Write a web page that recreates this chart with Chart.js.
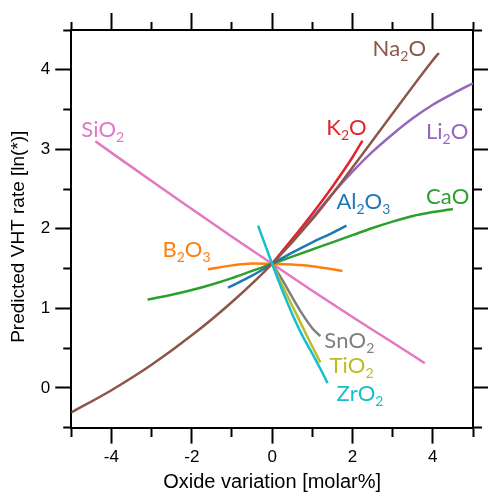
<!DOCTYPE html>
<html>
<head>
<meta charset="utf-8">
<script src="https://cdn.jsdelivr.net/npm/chart.js@4.4.1/dist/chart.umd.min.js"></script>
<style>
  html, body { margin: 0; padding: 0; background: #fff; }
</style>
</head>
<body>
<canvas id="vhtChart" width="488" height="492"></canvas>
<script>
// Oxide variation (molar%) vs predicted VHT rate [ln(*)], one curve per oxide
const zro2X = [-0.35, 0, 0.25, 0.5, 0.75, 1, 1.2, 1.38];
const zro2Y = [2.04, 1.56, 1.23, 0.93, 0.66, 0.43, 0.24, 0.06];
const tio2X = [0, 0.3, 0.6, 0.9, 1.2];
const tio2Y = [1.56, 1.24, 0.93, 0.62, 0.32];
const sno2X = [0, 0.25, 0.5, 0.75, 1, 1.2];
const sno2Y = [1.56, 1.36, 1.14, 0.93, 0.75, 0.65];
const sio2X = [-4.4, -3, -2, -1, 0, 1, 2, 3, 3.8];
const sio2Y = [3.1, 2.6, 2.25, 1.9, 1.56, 1.22, 0.89, 0.57, 0.31];
const b2o3X = [-1.6, -1, -0.5, 0, 0.5, 1, 1.75];
const b2o3Y = [1.49, 1.54, 1.565, 1.56, 1.55, 1.53, 1.47];
const al2o3X = [-1.1, -0.5, 0, 0.5, 1, 1.5, 1.85];
const al2o3Y = [1.26, 1.41, 1.56, 1.7, 1.83, 1.95, 2.04];
const caoX = [-3.1, -2.5, -2, -1.5, -1, -0.5, 0, 0.5, 1, 1.5, 2, 2.5, 3, 3.5, 4, 4.5];
const caoY = [1.11, 1.17, 1.23, 1.3, 1.38, 1.47, 1.56, 1.65, 1.74, 1.83, 1.92, 2.01, 2.09, 2.16, 2.21, 2.25];
const li2oX = [0, 0.5, 1, 1.5, 2, 2.5, 3, 3.5, 4, 4.5, 5];
const li2oY = [1.56, 1.86, 2.14, 2.44, 2.72, 2.97, 3.19, 3.39, 3.56, 3.7, 3.83];
const k2oX = [0, 0.5, 1, 1.5, 2, 2.25];
const k2oY = [1.56, 1.87, 2.19, 2.53, 2.9, 3.11];
const na2oX = [-5, -4, -3, -2, -1, 0, 1, 2, 3, 4, 4.15];
const na2oY = [-0.31, -0.03, 0.29, 0.66, 1.08, 1.56, 2.12, 2.77, 3.45, 4.12, 4.21];

// axis ticks: every tick gets a mark, only the labelled ones are long
const xTicks = [-5, -4, -3, -2, -1, 0, 1, 2, 3, 4, 5];
const xTickLabels = [-4, -2, 0, 2, 4];
const yTicks = [-0.5, 0, 0.5, 1, 1.5, 2, 2.5, 3, 3.5, 4, 4.5];
const yTickLabels = [0, 1, 2, 3, 4];

// first entry is drawn on top
const series = [
  { name: 'ZrO2', x: zro2X, y: zro2Y, color: '#17becf', at: [1.6, -0.16] },
  { name: 'TiO2', x: tio2X, y: tio2Y, color: '#bcbd22', at: [1.43, 0.19] },
  { name: 'SnO2', x: sno2X, y: sno2Y, color: '#7f7f7f', at: [1.3, 0.5] },
  { name: 'Na2O', x: na2oX, y: na2oY, color: '#8c564b', at: [2.5, 4.175] },
  { name: 'K2O', x: k2oX, y: k2oY, color: '#e0262b', at: [1.35, 3.175] },
  { name: 'Li2O', x: li2oX, y: li2oY, color: '#9467bd', at: [3.83, 3.125] },
  { name: 'Al2O3', x: al2o3X, y: al2o3Y, color: '#1f77b4', at: [1.6, 2.25] },
  { name: 'CaO', x: caoX, y: caoY, color: '#2ca02c', at: [3.83, 2.31] },
  { name: 'B2O3', x: b2o3X, y: b2o3Y, color: '#ff7f0e', at: [-2.73, 1.64] },
  { name: 'SiO2', x: sio2X, y: sio2Y, color: '#e377c2', at: [-4.75, 3.16] }
];

const MINOR_LEN = 8;
const tickFont = { family: 'Liberation Sans', size: 17 };

function makeAxis(position, allTicks, longTicks, tickLen, showLabels) {
  // top and left tick marks are stroked from their outer end towards the axis
  const inward = position === 'top' || position === 'left';
  const isLong = ctx => ctx.tick && longTicks.includes(ctx.tick.value);
  return {
    type: 'linear',
    position,
    afterBuildTicks: scale => { scale.ticks = allTicks.map(v => ({ value: v })); },
    border: { color: '#000', width: 2 },
    grid: {
      drawOnChartArea: false,
      drawTicks: true,
      tickLength: tickLen,
      tickWidth: 2,
      tickColor: '#000',
      tickBorderDash: ctx => isLong(ctx) ? [] : [MINOR_LEN, tickLen - MINOR_LEN],
      tickBorderDashOffset: ctx => (!isLong(ctx) && inward) ? MINOR_LEN : 0
    },
    ticks: {
      display: showLabels,
      autoSkip: false,
      maxRotation: 0,
      padding: 5,
      color: '#000',
      font: tickFont,
      callback: v => longTicks.includes(v) ? String(v) : ''
    }
  };
}

const scales = {
  x: makeAxis('bottom', xTicks, xTickLabels, 16, true),
  x2: makeAxis('top', xTicks, xTickLabels, 17, false),
  y: makeAxis('left', yTicks, yTickLabels, 16, true),
  y2: makeAxis('right', yTicks, yTickLabels, 15, false)
};
scales.x.min = scales.x2.min = -5;
scales.x.max = scales.x2.max = 5;
scales.y.min = scales.y2.min = -0.5;
scales.y.max = scales.y2.max = 4.5;
scales.x.ticks.padding = 4;
scales.x.title = {
  display: true,
  text: 'Oxide variation [molar%]',
  color: '#000',
  font: { family: 'Liberation Sans', size: 20, lineHeight: 1 },
  padding: { top: 0, bottom: 0 }
};
// trailing no-break spaces push the rotated title a little below centre
scales.y.title = {
  display: true,
  text: 'Predicted VHT rate [ln(*)]\u00a0\u00a0\u00a0',
  color: '#000',
  font: { family: 'Liberation Sans', size: 19 },
  padding: { top: 0, bottom: 6 }
};

// curve names with subscripted digits, placed by data coordinates
const oxideLabels = {
  id: 'oxideLabels',
  afterDatasetsDraw(chart) {
    const { ctx, scales: { x, y } } = chart;
    ctx.save();
    ctx.textBaseline = 'alphabetic';
    ctx.textAlign = 'left';
    series.forEach(s => {
      let px = x.getPixelForValue(s.at[0]);
      const py = y.getPixelForValue(s.at[1]);
      ctx.fillStyle = s.color;
      for (const ch of s.name) {
        const sub = /[0-9]/.test(ch);
        ctx.font = sub ? '14px Lato' : '22px Lato';
        ctx.fillText(ch, px, sub ? py + 5 : py);
        px += ctx.measureText(ch).width;
      }
    });
    ctx.restore();
  }
};

new Chart(document.getElementById('vhtChart'), {
  type: 'scatter',
  data: {
    datasets: series.map(s => ({
      label: s.name,
      data: s.x.map((v, i) => ({ x: v, y: s.y[i] })),
      borderColor: s.color,
      borderWidth: 2.5,
      pointRadius: 0,
      showLine: true,
      fill: false,
      cubicInterpolationMode: 'monotone'
    }))
  },
  options: {
    responsive: false,
    animation: false,
    devicePixelRatio: 1,
    layout: { padding: { top: 13, left: 7, right: 0, bottom: 0 } },
    plugins: {
      legend: { display: false },
      tooltip: { enabled: false }
    },
    scales
  },
  plugins: [oxideLabels]
});
</script>
</body>
</html>
